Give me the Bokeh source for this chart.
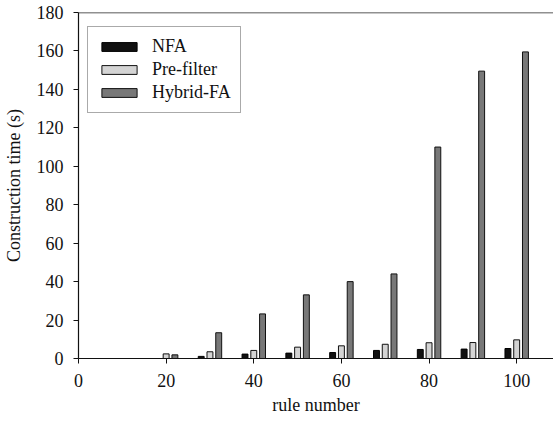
from bokeh.plotting import figure
from bokeh.models import ColumnDataSource, Range1d, FixedTicker, Legend, LegendItem, Span
from bokeh.transform import dodge
from bokeh.embed import file_html
from bokeh.resources import INLINE

rules = [20, 30, 40, 50, 60, 70, 80, 90, 100]
nfa = [0.0, 1.1, 2.3, 2.8, 3.1, 4.2, 4.7, 4.9, 5.2]
prefilter = [2.4, 3.5, 4.2, 5.9, 6.6, 7.4, 8.2, 8.3, 9.7]
hybrid = [1.9, 13.4, 23.2, 33.1, 40.0, 44.0, 110.0, 149.5, 159.5]
x_ticks = [0, 20, 40, 60, 80, 100]
y_ticks = [0, 20, 40, 60, 80, 100, 120, 140, 160, 180]

src = ColumnDataSource(dict(x=rules, nfa=nfa, pre=prefilter, hyb=hybrid))

FONT = "Liberation Serif"
FS = "18px"
p = figure(width=553, height=425, output_backend="svg", toolbar_location=None,
           x_range=Range1d(0, 108.4), y_range=Range1d(0, 180))
p.min_border_left = 77
p.min_border_right = 0
p.min_border_top = 12
p.min_border_bottom = 67
p.outline_line_color = None
p.xgrid.visible = False
p.ygrid.visible = False
p.background_fill_color = "white"
p.border_fill_color = "white"

w = 1.35
r1 = p.vbar(x=dodge("x", -2.0, range=p.x_range), top="nfa", width=w, source=src,
            fill_color="#111111", line_color="#000000", line_width=1)
r2 = p.vbar(x=dodge("x", 0.0, range=p.x_range), top="pre", width=w, source=src,
            fill_color="#d4d4d4", line_color="#111111", line_width=1)
r3 = p.vbar(x=dodge("x", 2.0, range=p.x_range), top="hyb", width=w, source=src,
            fill_color="#787878", line_color="#111111", line_width=1)

p.add_layout(Span(location=180, dimension="width", line_color="#222222", line_width=1.5))

for ax in (p.xaxis[0], p.yaxis[0]):
    ax.axis_line_color = "#111111"
    ax.axis_line_width = 1.2
    ax.major_tick_line_color = "#111111"
    ax.major_tick_in = 0
    ax.major_tick_out = 5
    ax.minor_tick_line_color = None
    ax.major_label_text_font = FONT
    ax.major_label_text_font_size = FS
    ax.major_label_text_color = "#111111"
    ax.axis_label_text_font = FONT
    ax.axis_label_text_font_size = FS
    ax.axis_label_text_font_style = "normal"
    ax.axis_label_text_color = "#111111"

p.xaxis.ticker = FixedTicker(ticks=x_ticks)
p.yaxis.ticker = FixedTicker(ticks=y_ticks)
p.xaxis.axis_label = "rule number"
p.yaxis.axis_label = "Construction time (s)"
p.xaxis.major_label_standoff = 10
p.yaxis.major_label_standoff = 10
p.xaxis.axis_label_standoff = 5
p.yaxis.axis_label_standoff = 10

legend = Legend(items=[LegendItem(label="NFA", renderers=[r1]),
                       LegendItem(label="Pre-filter", renderers=[r2]),
                       LegendItem(label="Hybrid-FA", renderers=[r3])],
                location=(9, 245))
legend.label_text_font = FONT
legend.label_text_font_size = FS
legend.label_text_color = "#111111"
legend.glyph_width = 44
legend.glyph_height = 11
legend.label_height = 20
legend.label_standoff = 11
legend.spacing = 2
legend.padding = 9
legend.margin = 0
legend.border_line_color = "#555555"
legend.border_line_width = 1.5
legend.background_fill_color = "white"
legend.background_fill_alpha = 1
p.add_layout(legend)

open("out.html", "w").write(file_html(p, INLINE))
